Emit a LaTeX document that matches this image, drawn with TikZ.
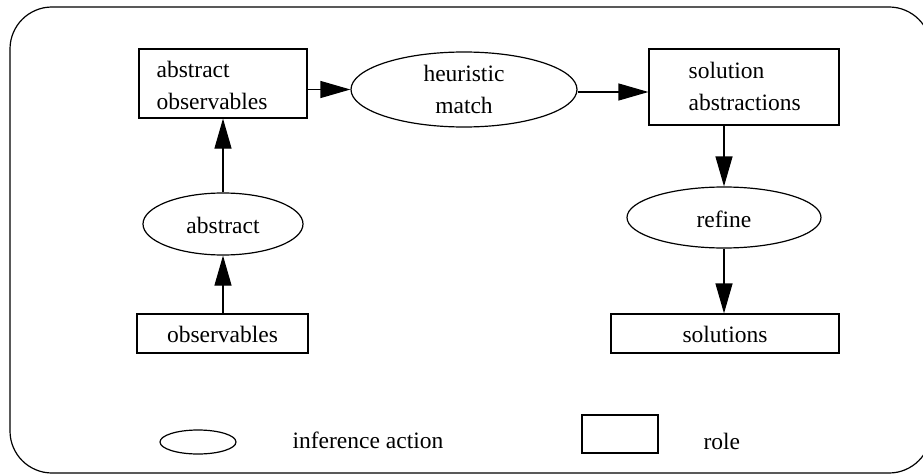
\documentclass[tikz,border=0pt]{standalone}
\usepackage{fontspec}
\setmainfont{Liberation Serif}
\usetikzlibrary{shapes.geometric,arrows.meta}
\begin{document}
\begin{tikzpicture}[x=1pt,y=-1pt,
  line width=1.2pt,
  every node/.style={font=\fontsize{23.5}{32}\selectfont},
  role/.style={draw,rectangle,inner sep=0pt},
  action/.style={draw,ellipse,inner sep=0pt},
  txt/.style={inner sep=0pt},
  arr/.style={-{Triangle[length=30pt,width=17pt]}}]
\useasboundingbox (0,0) rectangle (923,476);

% outer frame
\draw[rounded corners=42pt] (10,7) rectangle (931,473);

% roles
\node[role,minimum width=168pt,minimum height=69pt] (absobs) at (223,83.5) {};
\node[txt,anchor=west,align=left] (absobs-t) at (156,85.5) {abstract\\observables};
\node[role,minimum width=190pt,minimum height=76pt] (solabs) at (744,87) {};
\node[txt,anchor=west,align=left] (solabs-t) at (688,86) {solution\\abstractions};
\node[role,minimum width=171pt,minimum height=39pt] (obs) at (222.5,333.5) {};
\node[txt,anchor=base] (obs-t) at (222.5,342) {observables};
\node[role,minimum width=228pt,minimum height=39pt] (sols) at (725,333.5) {};
\node[txt,anchor=base] (sols-t) at (725,342) {solutions};

% inference actions
\node[action,minimum width=226pt,minimum height=75pt] (heur) at (464,89.5) {};
\node[txt,align=center] (heur-t) at (464,89) {heuristic\\match};
\node[action,minimum width=160pt,minimum height=62pt] (abs) at (223,224) {};
\node[txt,anchor=base] (abs-t) at (223,233) {abstract};
\node[action,minimum width=194pt,minimum height=61pt] (ref) at (724,217.5) {};
\node[txt,anchor=base] (ref-t) at (724,227) {refine};

% connectors
\draw[arr] (obs.north -| abs.south) -- (abs.south);
\draw[arr] (abs.north) -- (abs.north |- absobs.south);
\draw[arr] (absobs.east |- heur.west) -- (heur.west);
\draw[arr] ([yshift=-2.5pt]heur.east) -- ([yshift=-2.5pt]heur.east -| solabs.west);
\draw[arr] (solabs.south -| ref.north) -- (ref.north);
\draw[arr] (ref.south) -- (ref.south |- sols.north);

% legend
\node[action,minimum width=76pt,minimum height=24pt] (leg-a) at (198,442) {};
\node[txt,anchor=base west] (leg-a-t) at (292,448) {inference action};
\node[role,minimum width=76pt,minimum height=38pt] (leg-r) at (620,434) {};
\node[txt,anchor=base west] (leg-r-t) at (703,449) {role};
\end{tikzpicture}
\end{document}
